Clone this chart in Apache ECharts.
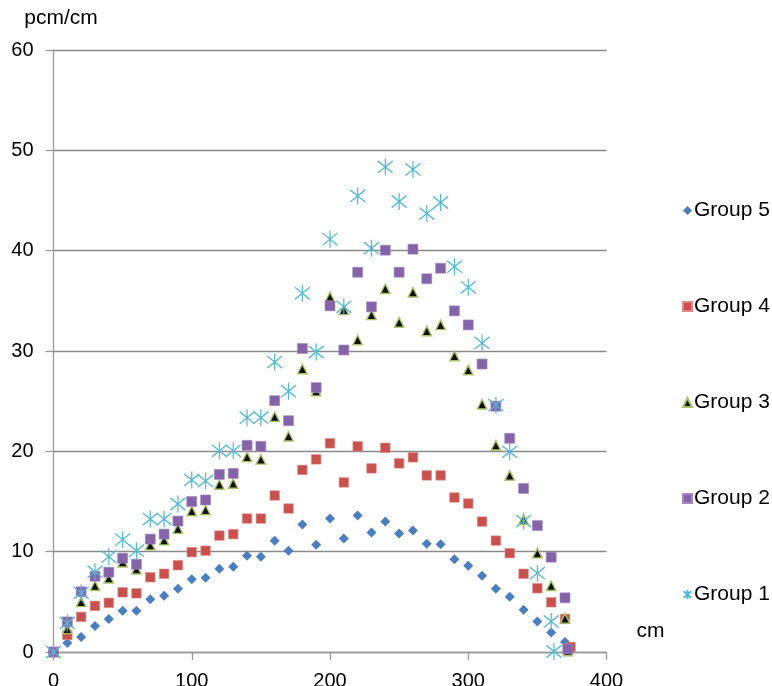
<!DOCTYPE html>
<html>
<head>
<meta charset="utf-8">
<script src="https://cdn.jsdelivr.net/npm/echarts/dist/echarts.min.js"></script>
<style>
html,body{margin:0;padding:0;background:#ffffff;}
#chart{width:772px;height:686px;}
</style>
</head>
<body>
<div id="chart"></div>
<script>
// ---- data ----
const seriesNames = ['Group 5', 'Group 4', 'Group 3', 'Group 2', 'Group 1'];
const distanceCm = [0,10,20,30,40,50,60,70,80,90,100,110,120,130,140,150,160,170,180,190,200,210,220,230,240,250,260,270,280,290,300,310,320,330,340,350,360,370];
const group5Values = [0,0.9,1.5,2.6,3.3,4.1,4.1,5.25,5.6,6.3,7.25,7.4,8.3,8.5,9.6,9.5,11.1,10.1,12.7,10.7,13.3,11.3,13.6,11.9,13.0,11.8,12.1,10.8,10.75,9.25,8.6,7.6,6.3,5.5,4.2,3.05,1.95,1.0];
const group4Values = [0,1.7,3.5,4.6,4.9,5.95,5.85,7.45,7.8,8.65,9.95,10.1,11.6,11.75,13.3,13.3,15.6,14.3,18.15,19.2,20.8,16.9,20.5,18.3,20.35,18.8,19.4,17.6,17.6,15.4,14.8,13.0,11.1,9.85,7.8,6.35,4.95,3.3];
const group3Values = [0,2.3,5.0,6.6,7.35,8.95,8.25,10.65,11.15,12.3,14.05,14.15,16.7,16.8,19.45,19.2,23.45,21.5,28.2,26.0,35.4,34.1,31.1,33.6,36.2,32.85,35.85,32.0,32.6,29.5,28.1,24.7,20.6,17.6,13.2,9.85,6.6,3.35];
const group2Values = [0,3.0,6.0,7.55,7.95,9.35,8.75,11.25,11.75,13.05,15.0,15.15,17.7,17.8,20.6,20.5,25.05,23.05,30.25,26.35,34.5,30.1,37.85,34.4,40.05,37.85,40.15,37.2,38.25,34.0,32.6,28.7,24.5,21.3,16.3,12.6,9.45,5.4];
const group1Values = [0,2.9,5.9,8.0,9.5,11.2,10.1,13.25,13.25,14.75,17.15,17.05,20.05,20.05,23.35,23.35,28.9,26.0,35.75,29.9,41.15,34.4,45.45,40.25,48.35,44.9,48.1,43.7,44.8,38.4,36.35,30.8,24.6,19.95,13.05,7.85,3.05];
// last (end) point of each group: [cm, value]
const group4End = [374, 0.5];
const group3End = [372, 0.1];
const group2End = [372, 0.3];
const group1End = [362, 0.05];
const xTicks = [0, 100, 200, 300, 400];
const yTicks = [0, 10, 20, 30, 40, 50, 60];

// ---- build ----
function pairs(values, end) {
  const out = values.map((v, i) => [distanceCm[i], v]);
  if (end) out.push(end);
  return out;
}
const FONT = "'Liberation Sans', Arial, sans-serif";
const asterisk = 'path://M6 0 L6 14 M0 2 L12 12 M12 2 L0 12';

const chart = echarts.init(document.getElementById('chart'), null, {renderer: 'canvas'});
chart.setOption({
  animation: false,
  backgroundColor: '#ffffff',
  textStyle: {fontFamily: FONT},
  grid: {left: 53.5, right: 165.5, top: 50, bottom: 34, containLabel: false, outerBoundsMode: 'none'},
  legend: {
    orient: 'vertical',
    left: 677,
    top: 195,
    itemGap: 75,
    itemWidth: 9,
    itemHeight: 9,
    textStyle: {fontSize: 21, color: '#000', fontFamily: FONT, padding: [0,0,0,-3]},
    data: [
      {name: 'Group 5', icon: 'diamond'},
      {name: 'Group 4', icon: 'rect'},
      {name: 'Group 3', icon: 'triangle'},
      {name: 'Group 2', icon: 'rect'},
      {name: 'Group 1', icon: asterisk}
    ]
  },
  xAxis: {
    type: 'value', min: xTicks[0], max: xTicks[xTicks.length - 1], interval: 100,
    name: 'cm', nameLocation: 'end', nameGap: 30,
    nameTextStyle: {fontSize: 21, color: '#000', fontFamily: FONT, verticalAlign: 'bottom', padding: [0, 0, 10, 0]},
    axisLine: {show: true, onZero: false, lineStyle: {color: '#9a9a9a', width: 1.3}},
    axisTick: {show: true, length: 8, lineStyle: {color: '#9a9a9a', width: 1.3}},
    splitLine: {show: false},
    axisLabel: {margin: 19, fontSize: 20, color: '#000', fontFamily: FONT}
  },
  yAxis: {
    type: 'value', min: yTicks[0], max: yTicks[yTicks.length - 1], interval: 10,
    name: 'pcm/cm', nameLocation: 'end', nameGap: 21,
    nameTextStyle: {fontSize: 21, color: '#000', fontFamily: FONT, align: 'center', padding: [0, 0, 0, 15]},
    axisLine: {show: true, lineStyle: {color: '#9a9a9a', width: 1.3}},
    axisTick: {show: true, length: 8, lineStyle: {color: '#9a9a9a', width: 1.3}},
    splitLine: {show: true, lineStyle: {color: '#8a8a8a', width: 1.3}},
    axisLabel: {margin: 20, fontSize: 20, color: '#000', fontFamily: FONT}
  },
  series: [
    {name: 'Group 5', type: 'scatter', symbol: 'diamond', symbolSize: 10,
     itemStyle: {color: '#4a7ebf', opacity: 1}, data: pairs(group5Values)},
    {name: 'Group 4', type: 'scatter', symbol: 'rect', symbolSize: 9.5,
     itemStyle: {color: '#c8504d', borderColor: '#e08a88', borderWidth: 0.6, opacity: 1}, data: pairs(group4Values, group4End)},
    {name: 'Group 3', type: 'scatter', symbol: 'triangle', symbolSize: 9.5,
     itemStyle: {color: '#111111', borderColor: '#a8c46a', borderWidth: 1.4, opacity: 1}, data: pairs(group3Values, group3End)},
    {name: 'Group 2', type: 'scatter', symbol: 'rect', symbolSize: 10,
     itemStyle: {color: '#8463a8', borderColor: '#a48ac0', borderWidth: 0.6, opacity: 1}, data: pairs(group2Values, group2End)},
    {name: 'Group 1', type: 'scatter', symbol: asterisk, symbolSize: [15, 17],
     itemStyle: {color: '#53b8d4', borderColor: '#53b8d4', borderWidth: 1.3, opacity: 1}, data: pairs(group1Values, group1End)}
  ]
});
</script>
</body>
</html>
